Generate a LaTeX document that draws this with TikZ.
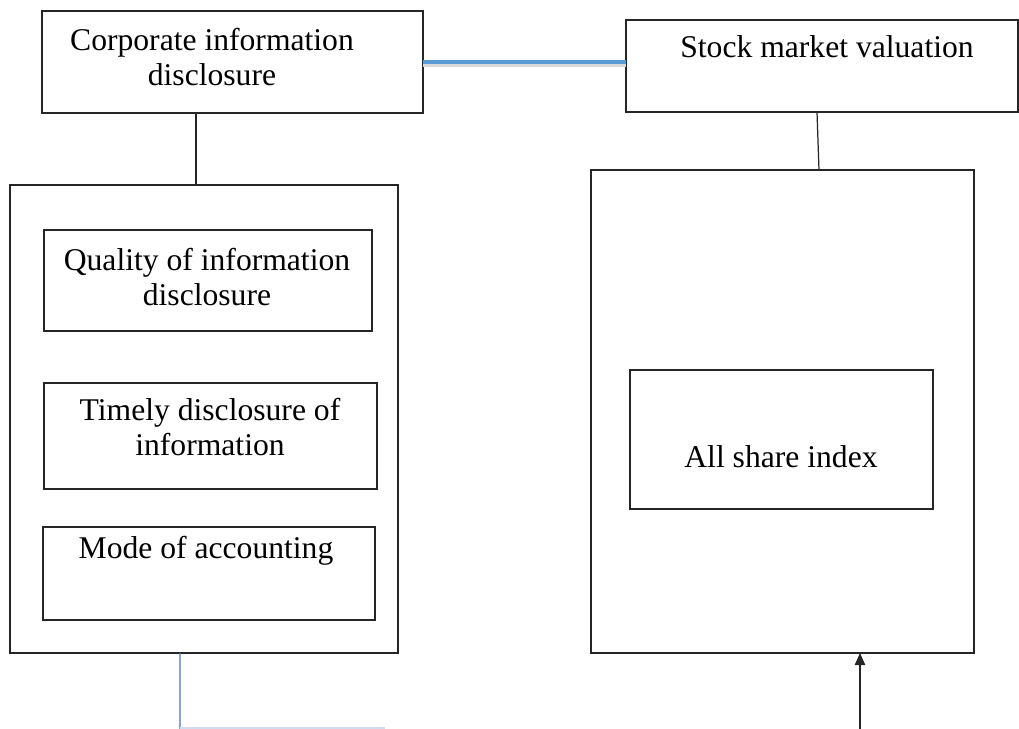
\documentclass[tikz,border=0pt]{standalone}
\usepackage{fontspec}
\setmainfont{Liberation Serif}
\usetikzlibrary{arrows.meta}
\definecolor{linkblue}{RGB}{91,155,213}
\definecolor{flowblue}{RGB}{68,114,196}

\begin{document}
\begin{tikzpicture}[x=0.02cm,y=-0.02cm,
  box/.style={draw=black!85, line width=0.7pt, inner sep=0pt, outer sep=0pt},
  txt/.style={align=center, font=\fontsize{18}{19.5}\selectfont, inner sep=0pt}]
  \useasboundingbox (0,0) rectangle (1019,729);

  % top boxes
  \node[box, minimum width=7.62cm, minimum height=2.04cm] (cid) at (232.5,62) {};
  \node[txt] (cidt) at (212,57) {Corporate information\\disclosure};
  \node[box, minimum width=7.84cm, minimum height=1.84cm] (smv) at (822,66) {};
  \node[txt] (smvt) at (827,47) {Stock market valuation};

  % left group
  \node[box, minimum width=7.76cm, minimum height=9.36cm] (lgrp) at (204,419) {};
  \node[box, minimum width=6.56cm, minimum height=2.02cm] (qid) at (208,280.5) {};
  \node[txt] (qidt) at (207,277) {Quality of information\\disclosure};
  \node[box, minimum width=6.66cm, minimum height=2.12cm] (tdi) at (210.5,436) {};
  \node[txt] (tdit) at (210,427) {Timely disclosure of\\information};
  \node[box, minimum width=6.64cm, minimum height=1.86cm] (moa) at (209,573.5) {};
  \node[txt] (moat) at (206,551) {Mode of accounting};

  % right group
  \node[box, minimum width=7.66cm, minimum height=9.66cm] (rgrp) at (782.5,411.5) {};
  \node[box, minimum width=6.06cm, minimum height=2.78cm] (asi) at (781.5,439.5) {};
  \node[txt] (asit) at (781,457) {All share index};

  % connectors
  \draw[black!15, line width=2.2pt] ([yshift=-0.06cm]cid.east) -- ([yshift=-0.06cm]cid.east -| smv.west);
  \draw[linkblue, line width=2.2pt] (cid.east) -- (cid.east -| smv.west);
  \draw[black!85, line width=0.7pt] ([xshift=-0.73cm]cid.south) -- ([xshift=-0.73cm]cid.south |- lgrp.north);
  \draw[black!85, line width=0.7pt] ([xshift=-0.1cm]smv.south) -- ([xshift=0.73cm]rgrp.north);

  \coordinate (lout) at (180,729);
  \coordinate (lend) at (385,728);
  \draw[flowblue, line width=0.6pt] ([xshift=-0.48cm]lgrp.south) -- (lout);
  \draw[flowblue!25, line width=0.6pt] (180,728) -- (lend);

  \coordinate (rin) at (860,729);
  \draw[black!85, line width=0.7pt, -{Triangle[width=6pt,length=7pt]}] (rin) -- (rin |- rgrp.south);
\end{tikzpicture}
\end{document}
